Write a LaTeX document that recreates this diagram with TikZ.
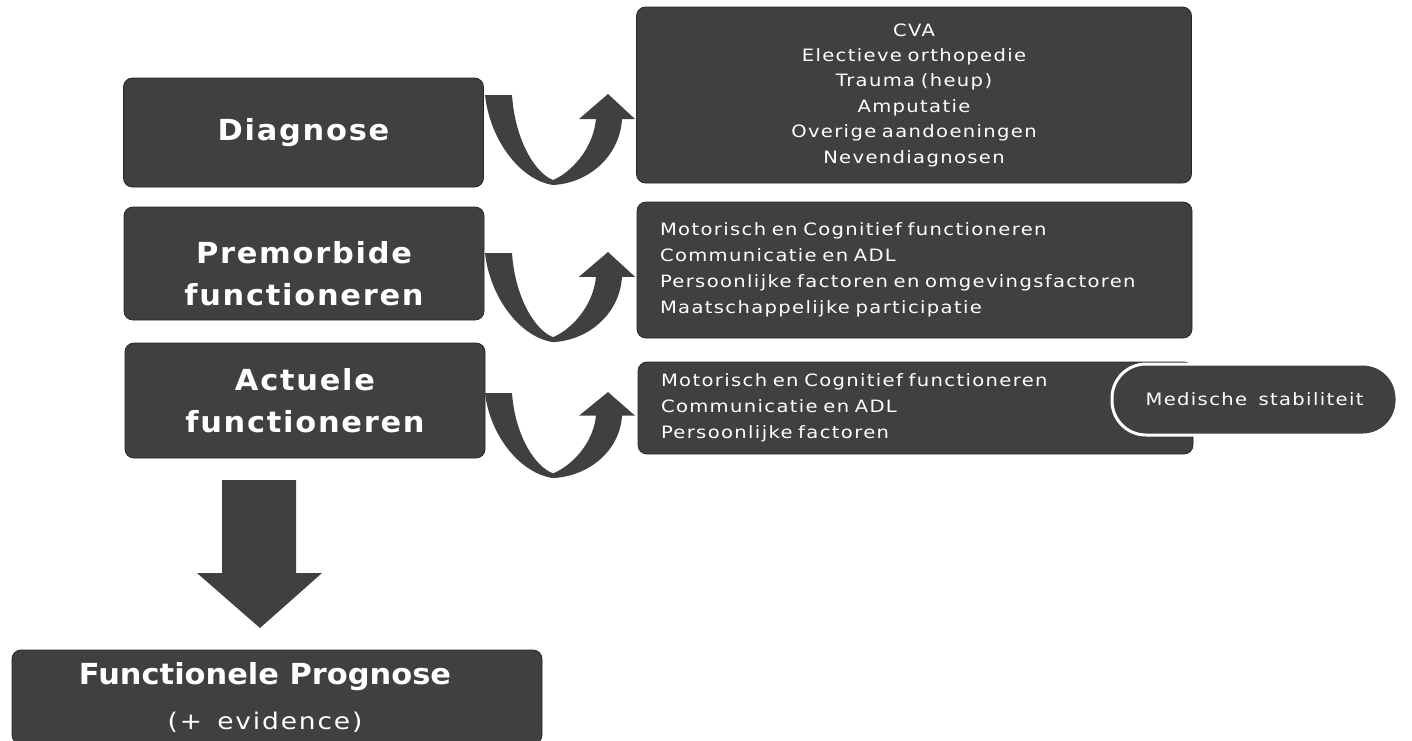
\documentclass[tikz,border=0pt]{standalone}
\usepackage{fontspec}
\setmainfont{DejaVu Sans}[FakeStretch=1.15,LetterSpace=8,WordSpace=1.5]
\newfontfamily\headfont{DejaVu Sans}[FakeStretch=1.05,LetterSpace=6]
\newfontfamily\progfont{DejaVu Sans}[FakeStretch=1.05]
\usetikzlibrary{positioning}
\definecolor{boxgray}{RGB}{64,64,64}
\definecolor{edgegray}{RGB}{38,38,38}
\tikzset{
  darkbox/.style={draw=edgegray,fill=boxgray,rounded corners=4.5pt,text=white,inner sep=0pt},
  headbox/.style={darkbox,minimum width=180pt,align=center,font=\headfont\bfseries\fontsize{14.5}{21}\selectfont},
  listbox/.style={darkbox,minimum width=277.5pt,text width=254.5pt,font=\fontsize{8.5}{13}\selectfont}
}
\begin{document}
\begin{tikzpicture}[x=0.5pt,y=-0.5pt]
\clip (0,0) rectangle (1412,740);
% left column
\node[headbox,minimum height=54.5pt] (diag) at (303.5,132.5) {Diagnose};
\node[headbox,minimum height=56.5pt] (premorb) at (304,263.5) {\rule{0pt}{21.5pt}Premorbide\\functioneren};
\node[headbox,minimum height=57.5pt] (actueel) at (305,400.5) {Actuele\\functioneren};
% right column
\node[listbox,align=center,minimum height=88pt,font=\fontsize{8.5}{12.7}\selectfont] (diaglist) at (914,95) {CVA\\Electieve orthopedie\\Trauma (heup)\\Amputatie\\Overige aandoeningen\\Nevendiagnosen};
\node[listbox,align=left,minimum height=68pt] (premlist) at (914.5,270) {Motorisch en Cognitief functioneren\\Communicatie en ADL\\Persoonlijke factoren en omgevingsfactoren\\Maatschappelijke participatie};
\node[listbox,align=left,minimum height=46pt] (actlist) at (915.5,408) {Motorisch en Cognitief functioneren\\Communicatie en ADL\\Persoonlijke factoren};
\node[darkbox,draw=white,line width=1.5pt,rounded corners=17pt,minimum width=142.5pt,minimum height=35.5pt,font=\fontsize{8.5}{13}\selectfont] (stabiel) at (1254.5,399.5) {Medische stabiliteit};
% outcome
\node[darkbox,minimum width=265pt,minimum height=47pt,align=center,font=\fontsize{11.5}{22.5}\selectfont] (prognose) at (277,697) {{\progfont\bfseries\fontsize{14.5}{22.5}\selectfont Functionele Prognose}\hspace*{12pt}\\(+ evidence)\hspace*{12pt}};
% u-turn arrows
\foreach \ty/\sc in {95/1,253/0.99,393/0.945}{
  \fill[boxgray,shift={(485,\ty)},yscale=\sc] (0,0) -- (27,0)
    .. controls (30,45) and (50,78) .. (68,85)
    .. controls (85,78) and (108,55) .. (111,24)
    -- (94,24) -- (123,-1) -- (150,24) -- (137,24)
    .. controls (135,60) and (105,88) .. (68,90)
    .. controls (35,85) and (5,45) .. (0,0) -- cycle;}
% down arrow
\fill[boxgray] (222,480) -- (296,480) -- (296,573) -- (322,573) -- (260,628) -- (197,573) -- (222,573) -- cycle;
\end{tikzpicture}
\end{document}
